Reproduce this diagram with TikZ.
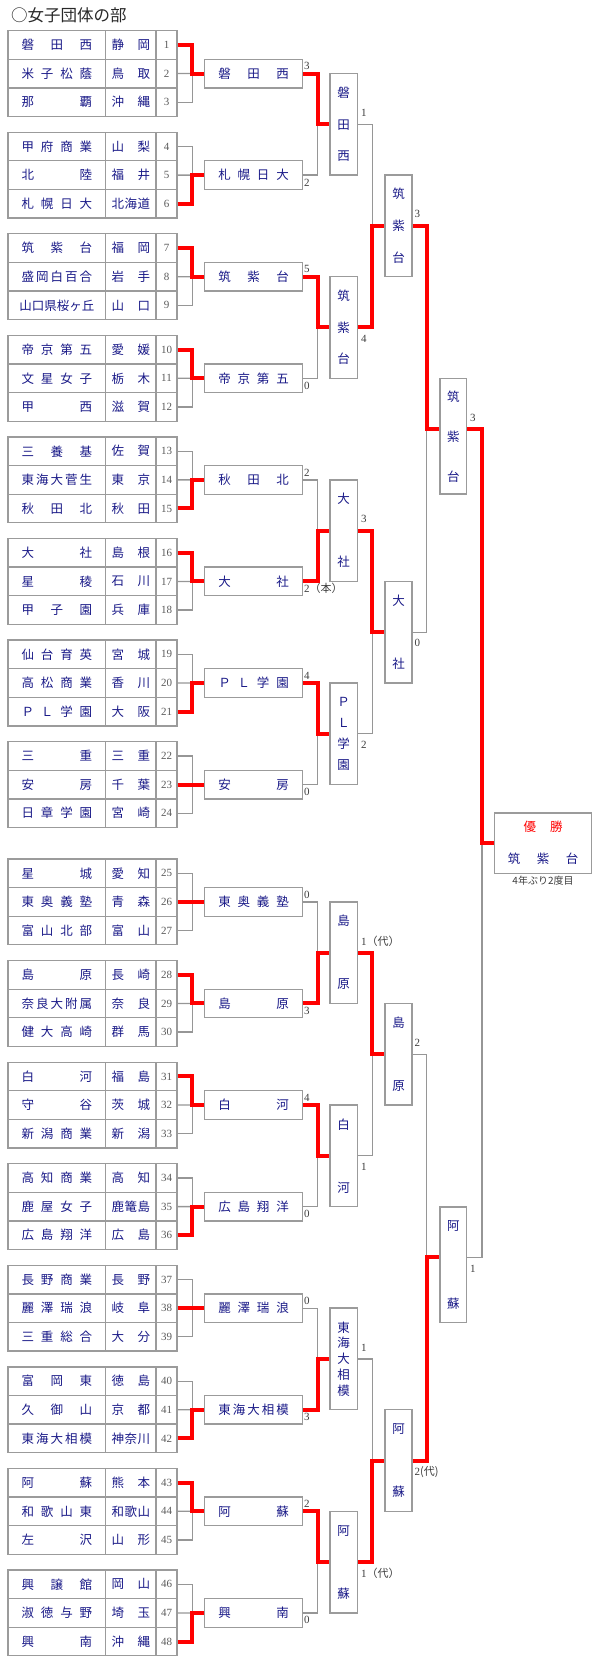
\documentclass[tikz,border=0pt]{standalone}
\usepackage{fontspec}
\setmainfont{Liberation Serif}
\newfontfamily\jp{Noto Sans CJK JP}
\usetikzlibrary{calc}
\definecolor{gline}{RGB}{150,150,150}
\definecolor{gbox}{RGB}{155,155,155}
\definecolor{navytxt}{RGB}{25,25,135}
\definecolor{wred}{RGB}{255,0,0}
\definecolor{numgray}{RGB}{90,90,90}
\definecolor{scoregray}{RGB}{60,60,60}
\definecolor{titlegray}{RGB}{40,40,40}
% spread characters horizontally
\def\sploop#1{\ifx#1\relax\else\hfill#1\expandafter\sploop\fi}
\def\sploopfirst#1{#1\sploop}
\newlength\sprw
\newcommand\spr[2]{\settowidth\sprw{#2}\ifdim\sprw<#1\relax\sprw=#1\relax\fi\makebox[\sprw][s]{\expandafter\sploopfirst#2\relax}}
% stack characters vertically
\def\vtloop#1{\ifx#1\relax\else\hbox to 14pt{\hss#1\hss}\expandafter\vtloop\fi}
\def\vtfirst#1{\hbox to 14pt{\hss#1\hss}\vtloop}
\newcommand\vt[2]{\vbox{\baselineskip=#1\lineskiplimit=-1000pt\lineskip=0pt\expandafter\vtfirst#2\relax}}
\begin{document}
\begin{tikzpicture}[x=1pt,y=-1pt,
  cell/.style={draw=gbox,line width=1.3pt,inner sep=0pt,minimum height=28.6pt,text=navytxt,font=\jp\fontsize{12.5}{12.5}\selectfont},
  namecell/.style={cell,minimum width=97.7pt},
  prefcell/.style={cell,minimum width=50.3pt},
  numcell/.style={cell,minimum width=21pt,text=numgray,font=\fontsize{11}{11}\selectfont},
  r1box/.style={cell,minimum width=97.6pt},
  vertbox/.style={draw=gbox,line width=1.4pt,inner sep=0pt,text=navytxt,font=\jp\fontsize{12.5}{12.5}\selectfont},
  r2box/.style={vertbox,minimum width=27.3pt,minimum height=101.6pt},
  r3box/.style={vertbox,minimum width=27pt,minimum height=101.6pt},
  r4box/.style={vertbox,minimum width=26.7pt,minimum height=115.6pt},
  finbox/.style={draw=gbox,line width=1.4pt,inner sep=0pt,minimum width=97.4pt,minimum height=60.6pt},
  gl/.style={draw=gline,line width=1.3pt},
  rl/.style={draw=wred,line width=4pt},
  score/.style={inner sep=0pt,anchor=west,text=scoregray,font=\fontsize{11}{11}\selectfont}
]
\useasboundingbox (0,0) rectangle (600,1680);
\node[anchor=west,inner sep=0pt,text=titlegray,font=\jp\fontsize{16.5}{16.5}\selectfont] (title) at (11,15) {○女子団体の部};
% ---------- table ----------
\foreach \n/\nm/\pf in {1/磐田西/静岡,2/米子松蔭/鳥取,3/那覇/沖縄,4/甲府商業/山梨,5/北陸/福井,6/札幌日大/北海道,7/筑紫台/福岡,8/盛岡白百合/岩手,9/山口県桜ヶ丘/山口,10/帝京第五/愛媛,11/文星女子/栃木,12/甲西/滋賀,13/三養基/佐賀,14/東海大菅生/東京,15/秋田北/秋田,16/大社/島根,17/星稜/石川,18/甲子園/兵庫,19/仙台育英/宮城,20/高松商業/香川,21/ＰＬ学園/大阪,22/三重/三重,23/安房/千葉,24/日章学園/宮崎,25/星城/愛知,26/東奥義塾/青森,27/富山北部/富山,28/島原/長崎,29/奈良大附属/奈良,30/健大高崎/群馬,31/白河/福島,32/守谷/茨城,33/新潟商業/新潟,34/高知商業/高知,35/鹿屋女子/鹿篭島,36/広島翔洋/広島,37/長野商業/長野,38/麗澤瑞浪/岐阜,39/三重総合/大分,40/富岡東/徳島,41/久御山/京都,42/東海大相模/神奈川,43/阿蘇/熊本,44/和歌山東/和歌山,45/左沢/山形,46/興譲館/岡山,47/淑徳与野/埼玉,48/興南/沖縄}{
  \pgfmathtruncatemacro\g{(\n-1)/3}
  \pgfmathtruncatemacro\r{\n-1-3*\g}
  \pgfmathsetmacro\T{\g<8 ? 30.67+101.57*\g : 859+101.57*(\g-8)}
  \pgfmathsetmacro\y{\T+(\r+0.5)*28.6}
  \node[namecell] (nm\n) at (56.85,\y) {\spr{70.5pt}{\nm}};
  \node[prefcell] (pf\n) at (130.85,\y) {\spr{38.5pt}{\pf}};
  \node[numcell] (no\n) at (166.5,\y) {\n};
}
% ---------- round 1 ----------
\foreach \g/\t/\w/\s in {0/磐田西/1/3,1/札幌日大/6/2,2/筑紫台/7/5,3/帝京第五/10/0,4/秋田北/15/2,5/大社/16/{2{\jp（本）}},6/ＰＬ学園/21/4,7/安房/23/0,8/東奥義塾/26/0,9/島原/28/3,10/白河/31/4,11/広島翔洋/36/0,12/麗澤瑞浪/38/0,13/東海大相模/42/3,14/阿蘇/43/2,15/興南/48/0}{
  \pgfmathsetmacro\T{\g<8 ? 30.67+101.57*\g : 859+101.57*(\g-8)}
  \pgfmathsetmacro\M{\T+42.9}
  \pgfmathtruncatemacro\na{3*\g+1}
  \pgfmathtruncatemacro\nb{3*\g+2}
  \pgfmathtruncatemacro\nc{3*\g+3}
  \node[r1box] (ra\g) at (253.5,\M) {\spr{70.5pt}{\t}};
  \coordinate (ja\g) at (192.3,\M);
  \draw[gl] (no\na.east) -| (ja\g) -- (ra\g.west);
  \draw[gl] (no\nc.east) -| (ja\g);
  \draw[gl] (no\nb.east) -- (ja\g);
  \draw[rl] (no\w.east) -| (ja\g) -- (ra\g.west);
  \pgfmathsetmacro\sy{mod(\g,2)==0 ? \M-7.3 : \M+7.3}
  \node[score] (sa\g) at (304,\sy) {\s};
}
% ---------- round 2 ----------
\foreach \j/\t/\bs/\w/\s in {0/磐田西/31.5/0/1,1/筑紫台/31.5/2/4,2/大社/63/5/3,3/ＰＬ学園/21/6/2,4/島原/63/9/{1{\jp（代）}},5/白河/63/10/1,6/東海大相模/15.75/13/1,7/阿蘇/63/14/{1{\jp（代）}}}{
  \pgfmathtruncatemacro\ga{2*\j}
  \pgfmathtruncatemacro\gb{2*\j+1}
  \pgfmathsetmacro\T{\ga<8 ? 30.67+101.57*\ga : 859+101.57*(\ga-8)}
  \pgfmathsetmacro\Y{\T+42.9+50.785}
  \node[r2box] (rb\j) at (343.65,\Y) {\vt{\bs pt}{\t}};
  \coordinate (jb\j) at (317.7,\Y);
  \draw[gl] (ra\ga.east) -| (jb\j) -- (rb\j.west);
  \draw[gl] (ra\gb.east) -| (jb\j);
  \draw[rl] (ra\w.east) -| (jb\j) -- (rb\j.west);
  \pgfmathsetmacro\sy{mod(\j,2)==0 ? \Y-11.4 : \Y+11.4}
  \node[score] (sb\j) at (361,\sy) {\s};
}
% ---------- round 3 ----------
\foreach \k/\t/\bs/\w/\s in {0/筑紫台/32/1/3,1/大社/63/2/0,2/島原/63/4/2,3/阿蘇/63/7/{2{\jp(代)}}}{
  \pgfmathtruncatemacro\ga{4*\k+1}
  \pgfmathtruncatemacro\ba{2*\k}
  \pgfmathtruncatemacro\bb{2*\k+1}
  \pgfmathsetmacro\T{\ga<8 ? 30.67+101.57*\ga : 859+101.57*(\ga-8)}
  \pgfmathsetmacro\Y{\T+42.9+50.785}
  \node[r3box] (rc\k) at (398.5,\Y) {\vt{\bs pt}{\t}};
  \coordinate (jc\k) at (372.3,\Y);
  \draw[gl] (rb\ba.east) -| (jc\k) -- (rc\k.west);
  \draw[gl] (rb\bb.east) -| (jc\k);
  \draw[rl] (rb\w.east) -| (jc\k) -- (rc\k.west);
  \pgfmathsetmacro\sy{mod(\k,2)==0 ? \Y-11.8 : \Y+11}
  \node[score] (sc\k) at (414.5,\sy) {\s};
}
% ---------- round 4 ----------
\foreach \d/\t/\bs/\w/\s in {0/筑紫台/40/0/3,1/阿蘇/78/3/1}{
  \pgfmathtruncatemacro\ga{8*\d+3}
  \pgfmathtruncatemacro\ca{2*\d}
  \pgfmathtruncatemacro\cb{2*\d+1}
  \pgfmathsetmacro\T{\ga<8 ? 30.67+101.57*\ga : 859+101.57*(\ga-8)}
  \pgfmathsetmacro\Y{\T+42.9+50.785}
  \pgfmathsetmacro\Yb{\Y+7.3}
  \node[r4box] (rd\d) at (453.35,\Yb) {\vt{\bs pt}{\t}};
  \coordinate (jd\d) at (426.7,\Y);
  \draw[gl] (rc\ca.east) -| (jd\d) -- (jd\d -| rd\d.west);
  \draw[gl] (rc\cb.east) -| (jd\d);
  \draw[rl] (rc\w.east) -| (jd\d) -- (jd\d -| rd\d.west);
  \pgfmathsetmacro\sy{mod(\d,2)==0 ? \Y-11.6 : \Y+11}
  \node[score] (sd\d) at (470,\sy) {\s};
}
% ---------- final ----------
\node[finbox] (fin) at (543,843.2) {};
\node[inner sep=0pt,text=wred,font=\jp\fontsize{12.5}{12.5}\selectfont] (fintop) at ($(fin.center)+(0,-16.5)$) {\spr{39pt}{優勝}};
\node[inner sep=0pt,text=navytxt,font=\jp\fontsize{12.5}{12.5}\selectfont] (finname) at ($(fin.center)+(0,15.1)$) {\spr{70.5pt}{筑紫台}};
\node[inner sep=0pt,text=scoregray,font=\jp\fontsize{10}{10}\selectfont] (finnote) at (543,881) {4年ぶり2度目};
\coordinate (je) at (482,843.2);
\draw[gl] (rd0.east |- jd0) -| (je) -- (fin.west);
\draw[gl] (rd1.east |- jd1) -| (je);
\draw[rl] (rd0.east |- jd0) -| (je) -- (fin.west);
\end{tikzpicture}
\end{document}
